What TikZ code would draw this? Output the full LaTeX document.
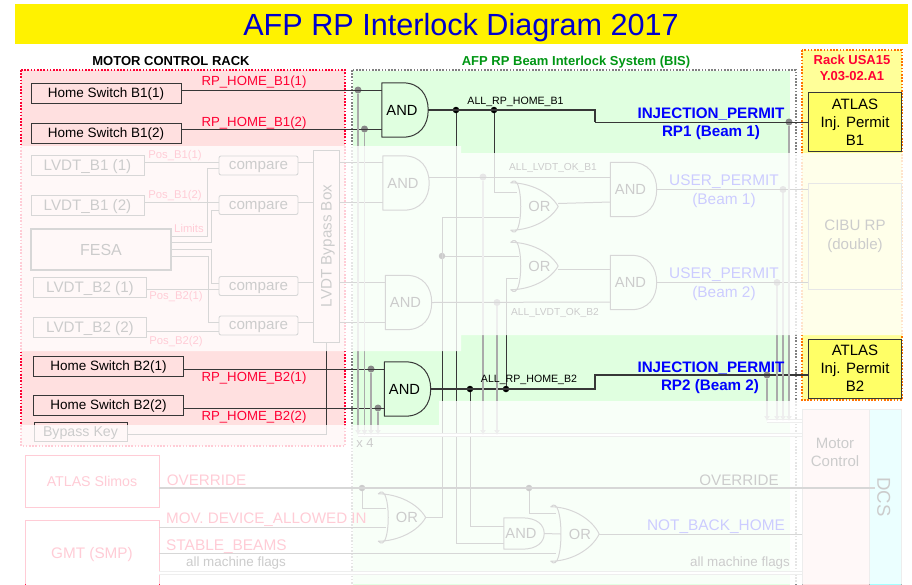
\documentclass[tikz,border=0pt]{standalone}
\usepackage{fontspec}
\setmainfont{Liberation Sans}
\usepackage{tikz}
\usetikzlibrary{arrows.meta,calc}
\definecolor{rackred}{RGB}{255,0,51}
\definecolor{rackpink}{RGB}{255,224,224}
\definecolor{bisgreen}{RGB}{224,255,224}
\definecolor{bistext}{RGB}{0,150,20}
\definecolor{rackyellow}{RGB}{255,255,153}
\definecolor{atlasyellow}{RGB}{255,255,102}
\definecolor{dcscyan}{RGB}{155,255,255}
\definecolor{wiredark}{RGB}{55,55,55}
\definecolor{wiregray}{RGB}{170,170,170}
\definecolor{permitblue}{RGB}{0,0,255}
\newcommand{\fsz}[1]{\fontsize{#1}{#1}\selectfont}

\begin{document}
\begin{tikzpicture}[
  x=1pt, y=-1pt,
  box/.style={draw=wiredark, line width=1pt, inner sep=0pt, align=center},
  homebox/.style={box, minimum width=150pt, minimum height=20pt, text height=9.7pt, text depth=0pt, font=\fsz{13.5}},
  lvdtbox/.style={box, line width=0.9pt, minimum width=113pt, minimum height=20pt, text height=10.9pt, text depth=0pt, font=\fsz{15.2}},
  cmpbox/.style={box, line width=0.9pt, rounded corners=2pt, minimum width=79pt, minimum height=19pt, text height=8pt, text depth=0pt, font=\fsz{15.2}},
  atlasbox/.style={box, fill=atlasyellow, minimum width=93pt, minimum height=59pt, font=\fsz{15}},
  redbox/.style={draw=rackred, line width=0.9pt, fill=white, inner sep=0pt, minimum width=134pt, text=rackred},
  gatetext/.style={inner sep=0pt, text=black, text height=10.5pt, text depth=0pt, font=\fsz{14.7}},
  andg/.style={inner sep=0pt, minimum width=46pt, minimum height=54pt, label={[gatetext, xshift=-3pt]center:AND}},
  org/.style={inner sep=0pt, minimum width=47pt, minimum height=47pt, label={[gatetext, xshift=5pt]center:OR}},
  gateline/.style={draw=wiredark, line width=1pt, line join=round},
  wire/.style={draw=wiredark, line width=1pt},
  thickwire/.style={draw=wiredark, line width=1.5pt},
  graywire/.style={draw=wiregray, line width=1.2pt},
  arrow/.style={graywire, -{Latex[length=5pt,width=6pt]}},
  bus/.style={draw=wiregray, line width=1.1pt, double=white, double distance=1.6pt},
  dot/.style={circle, fill=black, inner sep=0pt, minimum size=6.5pt},
  graydot/.style={circle, fill=wiregray!80!black, inner sep=0pt, minimum size=7pt},
  reglabel/.style={inner sep=0pt, text height=9.3pt, text depth=0pt, font=\bfseries\fsz{13}},
  homelabel/.style={inner sep=0pt, text=rackred, text height=9.5pt, text depth=0pt, font=\fsz{13.2}},
  poslabel/.style={inner sep=0pt, text=rackred, text height=8.1pt, text depth=0pt, font=\fsz{11.3}},
  siglabel/.style={inner sep=0pt, text height=7.6pt, text depth=0pt, font=\fsz{10.6}},
  permit/.style={inner sep=0pt, text=permitblue, text height=10.9pt, text depth=0pt, font=\bfseries\fsz{15.2}},
  userlabel/.style={inner sep=0pt, text=permitblue, text height=11pt, text depth=0pt, font=\fsz{15.4}},
  flaglabel/.style={inner sep=0pt, text=rackred, text height=10.9pt, text depth=0pt, font=\fsz{15.2}},
  zone/.style={line width=1.5pt, dash pattern=on 1.6pt off 1.6pt}
]
  \clip (0,0) rectangle (912,584);
  \fill[white] (0,0) rectangle (912,584);

  \fill[yellow] (15,4) rectangle (908,44);
  \node[inner sep=0pt, text=blue!80!black, text height=22pt, text depth=0pt, font=\fsz{30.6}] (title) at (461,24) {AFP RP Interlock Diagram 2017};

  \fill[rackpink] (21,70) rectangle (345,446);
  \draw[zone, rackred] (21,70) rectangle (345,446);
  \fill[bisgreen] (353,71) rectangle (790,600);
  \draw[zone, gray] (352,70) rectangle (796,600);
  \fill[rackyellow] (802,50) rectangle (902,400);
  \draw[zone, orange!90!red] (802,50) rectangle (902,400);

  \node[reglabel] (motorlabel) at (171,61) {MOTOR CONTROL RACK};
  \node[reglabel, text=bistext] (bislabel) at (576,61) {AFP RP Beam Interlock System (BIS)};
  \node[inner sep=0pt, text=rackred, align=center, font=\bfseries\fontsize{13}{16}\selectfont] (racklabel) at (852,68) {Rack USA15\\Y.03-02.A1};

  \node[homebox] (hs11) at (106,93) {Home Switch B1(1)};
  \node[homebox] (hs12) at (106,133) {Home Switch B1(2)};
  \node[homebox] (hs21) at (108.5,366) {Home Switch B2(1)};
  \node[homebox] (hs22) at (108.5,405) {Home Switch B2(2)};
  \node[lvdtbox] (lv11) at (87.5,165.5) {LVDT\_B1 (1)};
  \node[lvdtbox] (lv12) at (87.5,205.5) {LVDT\_B1 (2)};
  \node[lvdtbox] (lv21) at (90,287) {LVDT\_B2 (1)};
  \node[lvdtbox] (lv22) at (90,327) {LVDT\_B2 (2)};
  \node[box, line width=2pt, minimum width=140pt, minimum height=41pt, text height=11.5pt, text depth=0pt, font=\fsz{16}] (fesa) at (101,249.5) {FESA};
  \node[cmpbox] (cmp11) at (258.5,165.5) {compare};
  \node[cmpbox] (cmp12) at (258.5,205) {compare};
  \node[cmpbox] (cmp21) at (258.5,286) {compare};
  \node[cmpbox] (cmp22) at (258.5,325.5) {compare};
  \node[box, line width=0.9pt, minimum width=26pt, minimum height=192pt] (lvbox) at (326,246) {};
  \node[inner sep=0pt, rotate=90, text height=11pt, text depth=0pt, font=\fsz{15.2}] (lvtext) at (326,246) {LVDT Bypass Box};
  \node[box, line width=0.9pt, minimum width=93pt, minimum height=19pt, text height=10pt, text depth=0pt, font=\fsz{14.2}] (bypkey) at (80.5,431.5) {Bypass Key};
  \node[redbox, minimum height=52pt, text height=10.2pt, text depth=0pt, font=\fsz{14.2}] (slimos) at (92,481) {ATLAS Slimos};
  \node[redbox, minimum height=70pt, font=\fsz{15.3}] (gmt) at (92,555) {GMT (SMP)};

  \node[box, fill=rackpink, draw=gray!70, minimum width=67pt, minimum height=191pt] (motor) at (835.5,504.5) {};
  \node[box, fill=dcscyan, draw=gray!70, minimum width=32pt, minimum height=191pt] (dcs) at (885,504.5) {};
  \node[inner sep=0pt, align=center, font=\fontsize{15}{18}\selectfont] (motortext) at (835,452) {Motor\\Control};
  \node[inner sep=0pt, rotate=-90, text height=13.4pt, text depth=0pt, font=\fsz{18.6}] (dcstext) at (884,497) {DCS};
  \node[atlasbox] (atlasa) at (855,122) {ATLAS\\[3pt]Inj. Permit\\[3pt]B1};
  \node[atlasbox] (atlasb) at (855,368.5) {ATLAS\\[3pt]Inj. Permit\\[3pt]B2};
  \node[box, draw=wiregray!80!black, fill=rackyellow, minimum width=93pt, minimum height=106pt, font=\fontsize{15.1}{19}\selectfont] (cibu) at (855,236) {CIBU RP\\(double)};

  \node[andg] (andtop) at (405,110) {};
  \node[andg] (andlvo) at (406,183) {};
  \node[andg] (andlvt) at (408.5,302.5) {};
  \node[andg] (andbot) at (407.5,389) {};
  \node[andg] (andbo) at (633.5,189.5) {};
  \node[andg] (andbt) at (633.5,282.5) {};
  \node[andg, minimum width=40pt, minimum height=31pt] (andhome) at (524,533.5) {};
  \node[org] (orone) at (534.5,206.5) {};
  \node[org] (ortwo) at (534.5,266) {};
  \node[org] (orover) at (402,517.5) {};
  \node[org, minimum width=48pt, minimum height=54pt] (orhome) at (575,534) {};

  \foreach \g in {andtop,andlvo,andlvt,andbot,andbo,andbt,andhome} {
    \draw[gateline] (\g.north west) -- (\g.south west) -- ($(\g.south west)!0.45!(\g.south east)$)
      .. controls ($(\g.south west)!0.82!(\g.south east)$) and ($(\g.east)!0.55!(\g.south east)$) .. (\g.east)
      .. controls ($(\g.east)!0.55!(\g.north east)$) and ($(\g.north west)!0.82!(\g.north east)$) .. ($(\g.north west)!0.45!(\g.north east)$) -- cycle;
  }
  \foreach \g in {orone,ortwo,orover,orhome} {
    \draw[gateline] (\g.north west)
      .. controls ($(\g.north west)!0.4!(\g.north east)$) and ($(\g.east)!0.6!(\g.north east)+(-8pt,0)$) .. (\g.east)
      .. controls ($(\g.east)!0.6!(\g.south east)+(-8pt,0)$) and ($(\g.south west)!0.4!(\g.south east)$) .. (\g.south west)
      .. controls ($(\g.south west)!0.28!(\g.south east)+(0,-15pt)$) and ($(\g.north west)!0.28!(\g.north east)+(0,15pt)$) .. (\g.north west) -- cycle;
  }

  \node[dot] (jtopa) at (456,110) {};
  \node[dot] (jtopb) at (494,110) {};
  \node[dot] (jbota) at (470,389) {};
  \node[dot] (jbotb) at (506,389) {};
  \node[dot] (jover) at (442,256) {};
  \node[dot] (jovl) at (362,488) {};
  \node[dot] (jovr) at (529,488) {};
  \node[graydot] (jhs11) at (358,90) {};
  \node[graydot] (jhs12) at (364.5,129) {};
  \node[graydot] (jhs21) at (371,369) {};
  \node[graydot] (jhs22) at (378,408) {};
  \node[graydot] (jlvo) at (483,177) {};
  \node[graydot] (jlvt) at (497,302.5) {};
  \node[graydot] (jinja) at (789,122) {};
  \node[graydot] (jusra) at (783,189.5) {};
  \node[graydot] (jusrb) at (777,282.5) {};
  \node[graydot] (jinjb) at (767,375) {};

  \coordinate (busl) at (358,435);
  \coordinate (busr) at (767,421);
  \coordinate (kinka) at (595,122);
  \coordinate (kinkb) at (595,375);
  \coordinate (kinkc) at (442,217);
  \coordinate (ovend) at (875,488);

  \draw[wire] ([yshift=3pt]hs11.east) -- ([yshift=20pt]andtop.west);
  \draw[wire] ([yshift=4pt]hs12.east) -- ([yshift=-19pt]andtop.west);
  \draw[wire] ([yshift=-3pt]hs21.east) -- ([yshift=20pt]andbot.west);
  \draw[wire] ([yshift=-3pt]hs22.east) -- ([yshift=-19pt]andbot.west);
  \draw[thickwire] (andtop.east) -| (kinka);
  \draw[wire] (kinka) -- (atlasa.west);
  \draw[thickwire] (andbot.east) -| (kinkb) -- ([yshift=-6.5pt]atlasb.west);
  \draw[wire] (jtopa) |- ([yshift=-9.5pt]andhome.west);
  \draw[wire] (jtopb) |- ([yshift=14.5pt,xshift=6pt]orone.west);
  \draw[wire] (jbota) |- ([yshift=7.5pt]andhome.west);
  \draw[wire] (jbotb) |- ([yshift=-12pt,xshift=7pt]ortwo.west);
  \draw[wire] (orover.east) -| (kinkc) -- ([yshift=-10.5pt,xshift=8pt]orone.west);
  \draw[wire] (jover) -- ([yshift=10pt,xshift=8pt]ortwo.west);

  \draw[wire] ([yshift=6pt]andlvo.east) -- ([yshift=12.5pt]andbo.west);
  \draw[wire] (andlvt.east) -- ([yshift=-19.5pt]andbt.west);
  \draw[wire] ([yshift=3pt]orone.east) -- ([yshift=-12.5pt]andbo.west);
  \draw[wire] ([yshift=-3pt]ortwo.east) -- ([yshift=13.5pt]andbt.west);
  \draw[wire] (andbo.east) -- (andbo.east -| cibu.west);
  \draw[wire] (andbt.east) -- (andbt.east -| cibu.west);
  \draw[wire] (andhome.east) -- ([xshift=10pt]orhome.west);
  \draw[wire] (orhome.east) -- (orhome.east -| motor.west);
  \draw[thickwire] ([yshift=-7pt]slimos.east) -- (ovend);
  \draw[wire] (jovl) |- ([yshift=9.5pt,xshift=8pt]orover.west);
  \draw[wire] (jovr) |- ([yshift=21pt,xshift=5pt]orhome.west);
  \draw[wire] ([yshift=28pt]gmt.east) -- ([yshift=-9.5pt,xshift=8pt]orover.west);
  \draw[wire] ([yshift=2pt]gmt.east) -- ([yshift=-19pt,xshift=5pt]orhome.west);

  \draw[wire] ([yshift=3.5pt]lv11.east) -- ([yshift=3.5pt]cmp11.west);
  \draw[wire] ([yshift=3.5pt]lv12.east) -- ([yshift=3pt]cmp12.west);
  \draw[wire] ([yshift=-2pt]lv21.east) -- ([yshift=-3pt]cmp21.west);
  \draw[wire] ([yshift=-4pt]lv22.east) -- ([yshift=-5.5pt]cmp22.west);
  \draw[wire] ([yshift=13.5pt]fesa.east) -| ([yshift=-2.5pt,xshift=-11pt]cmp11.west) -- ([yshift=-2.5pt]cmp11.west);
  \draw[wire] ([yshift=7.5pt]fesa.east) -| ([yshift=-5pt,xshift=-7pt]cmp12.west) -- ([yshift=-5pt]cmp12.west);
  \draw[wire] (fesa.east) -| ([yshift=3pt,xshift=-7pt]cmp21.west) -- ([yshift=3pt]cmp21.west);
  \draw[wire] ([yshift=-6.5pt]fesa.east) -| ([yshift=3.5pt,xshift=-10pt]cmp22.west) -- ([yshift=3.5pt]cmp22.west);
  \draw[wire] ([yshift=3.5pt]cmp11.east) -- ([yshift=3.5pt]cmp11.east -| lvbox.west);
  \draw[wire] ([yshift=3pt]cmp12.east) -- ([yshift=3pt]cmp12.east -| lvbox.west);
  \draw[wire] ([yshift=4pt]cmp21.east) -- ([yshift=4pt]cmp21.east -| lvbox.west);
  \draw[wire] ([yshift=3.5pt]cmp22.east) -- ([yshift=3.5pt]cmp22.east -| lvbox.west);
  \draw[wire] ([yshift=21pt]andlvo.west -| lvbox.east) -- ([yshift=21pt]andlvo.west);
  \draw[wire] ([yshift=-19pt]andlvo.west -| lvbox.east) -- ([yshift=-19pt]andlvo.west);
  \draw[wire] ([yshift=20.5pt]andlvt.west -| lvbox.east) -- ([yshift=20.5pt]andlvt.west);
  \draw[wire] ([yshift=-19.5pt]andlvt.west -| lvbox.east) -- ([yshift=-19.5pt]andlvt.west);
  \draw[wire] ([yshift=-2.5pt]bypkey.east) -| (lvbox.south);

  \draw[bus] (busl) -- (busl -| motor.west);
  \draw[bus] (busr) -- (busr -| motor.west);
  \draw[bus] ([yshift=-18pt]gmt.east) -- ([yshift=-18pt]gmt.east -| motor.west);
  \foreach \j in {jhs11,jhs12,jhs21,jhs22,jlvo,jlvt} {
    \draw[arrow] (\j) -- (\j |- busl);
  }
  \foreach \j in {jinja,jusra,jusrb,jinjb} {
    \draw[arrow] (\j) -- (\j |- busr);
  }

  \node[homelabel] (rpb11) at (254,81) {RP\_HOME\_B1(1)};
  \node[homelabel] (rpb12) at (254,122) {RP\_HOME\_B1(2)};
  \node[homelabel] (rpb21) at (254,377) {RP\_HOME\_B2(1)};
  \node[homelabel] (rpb22) at (254,416) {RP\_HOME\_B2(2)};
  \node[poslabel] (posb11) at (175,154) {Pos\_B1(1)};
  \node[poslabel] (posb12) at (175,194) {Pos\_B1(2)};
  \node[poslabel] (posb21) at (176,295) {Pos\_B2(1)};
  \node[poslabel] (posb22) at (176,340) {Pos\_B2(2)};
  \node[poslabel] (limits) at (189,228) {Limits};
  \node[siglabel] (allhb1) at (515.5,101) {ALL\_RP\_HOME\_B1};
  \node[siglabel] (allhb2) at (529,379) {ALL\_RP\_HOME\_B2};
  \node[siglabel, font=\fsz{10.2}] (alllb1) at (553,167) {ALL\_LVDT\_OK\_B1};
  \node[siglabel, font=\fsz{10.2}] (alllb2) at (555,312) {ALL\_LVDT\_OK\_B2};
  \node[permit] (inja) at (711,113) {INJECTION\_PERMIT};
  \node[permit] (rpa) at (711,131) {RP1 (Beam 1)};
  \node[permit] (injb) at (711,367) {INJECTION\_PERMIT};
  \node[permit] (rpb) at (710,385) {RP2 (Beam 2)};
  \node[userlabel] (usra) at (724,180) {USER\_PERMIT};
  \node[userlabel] (beama) at (724,199) {(Beam 1)};
  \node[userlabel] (usrb) at (724,273) {USER\_PERMIT};
  \node[userlabel] (beamb) at (724,292) {(Beam 2)};
  \node[userlabel] (nbh) at (716,525) {NOT\_BACK\_HOME};
  \node[flaglabel] (ovl) at (206.5,480) {OVERRIDE};
  \node[flaglabel, text=black] (ovr) at (739,480) {OVERRIDE};
  \node[flaglabel, anchor=west] (mov) at (166,518) {MOV. DEVICE\_ALLOWED IN};
  \node[flaglabel, anchor=west, font=\fsz{15.4}] (stable) at (166,545) {STABLE\_BEAMS};
  \node[inner sep=0pt, text height=9.6pt, text depth=0pt, font=\fsz{13.4}] (flagl) at (236,562) {all machine flags};
  \node[inner sep=0pt, text height=9.6pt, text depth=0pt, font=\fsz{13.4}] (flagr) at (740,562) {all machine flags};
  \node[inner sep=0pt, text height=9pt, text depth=0pt, font=\fsz{13}] (xfour) at (365,443) {x 4};

  \fill[white, opacity=0.8] (0,146) -- (461,146) -- (461,153) -- (912,153) -- (912,335) -- (461,335) -- (461,351) -- (0,351) -- cycle;
  \fill[white, opacity=0.8] (0,425) -- (439,425) -- (439,401) -- (912,401) -- (912,584) -- (0,584) -- cycle;
\end{tikzpicture}
\end{document}
